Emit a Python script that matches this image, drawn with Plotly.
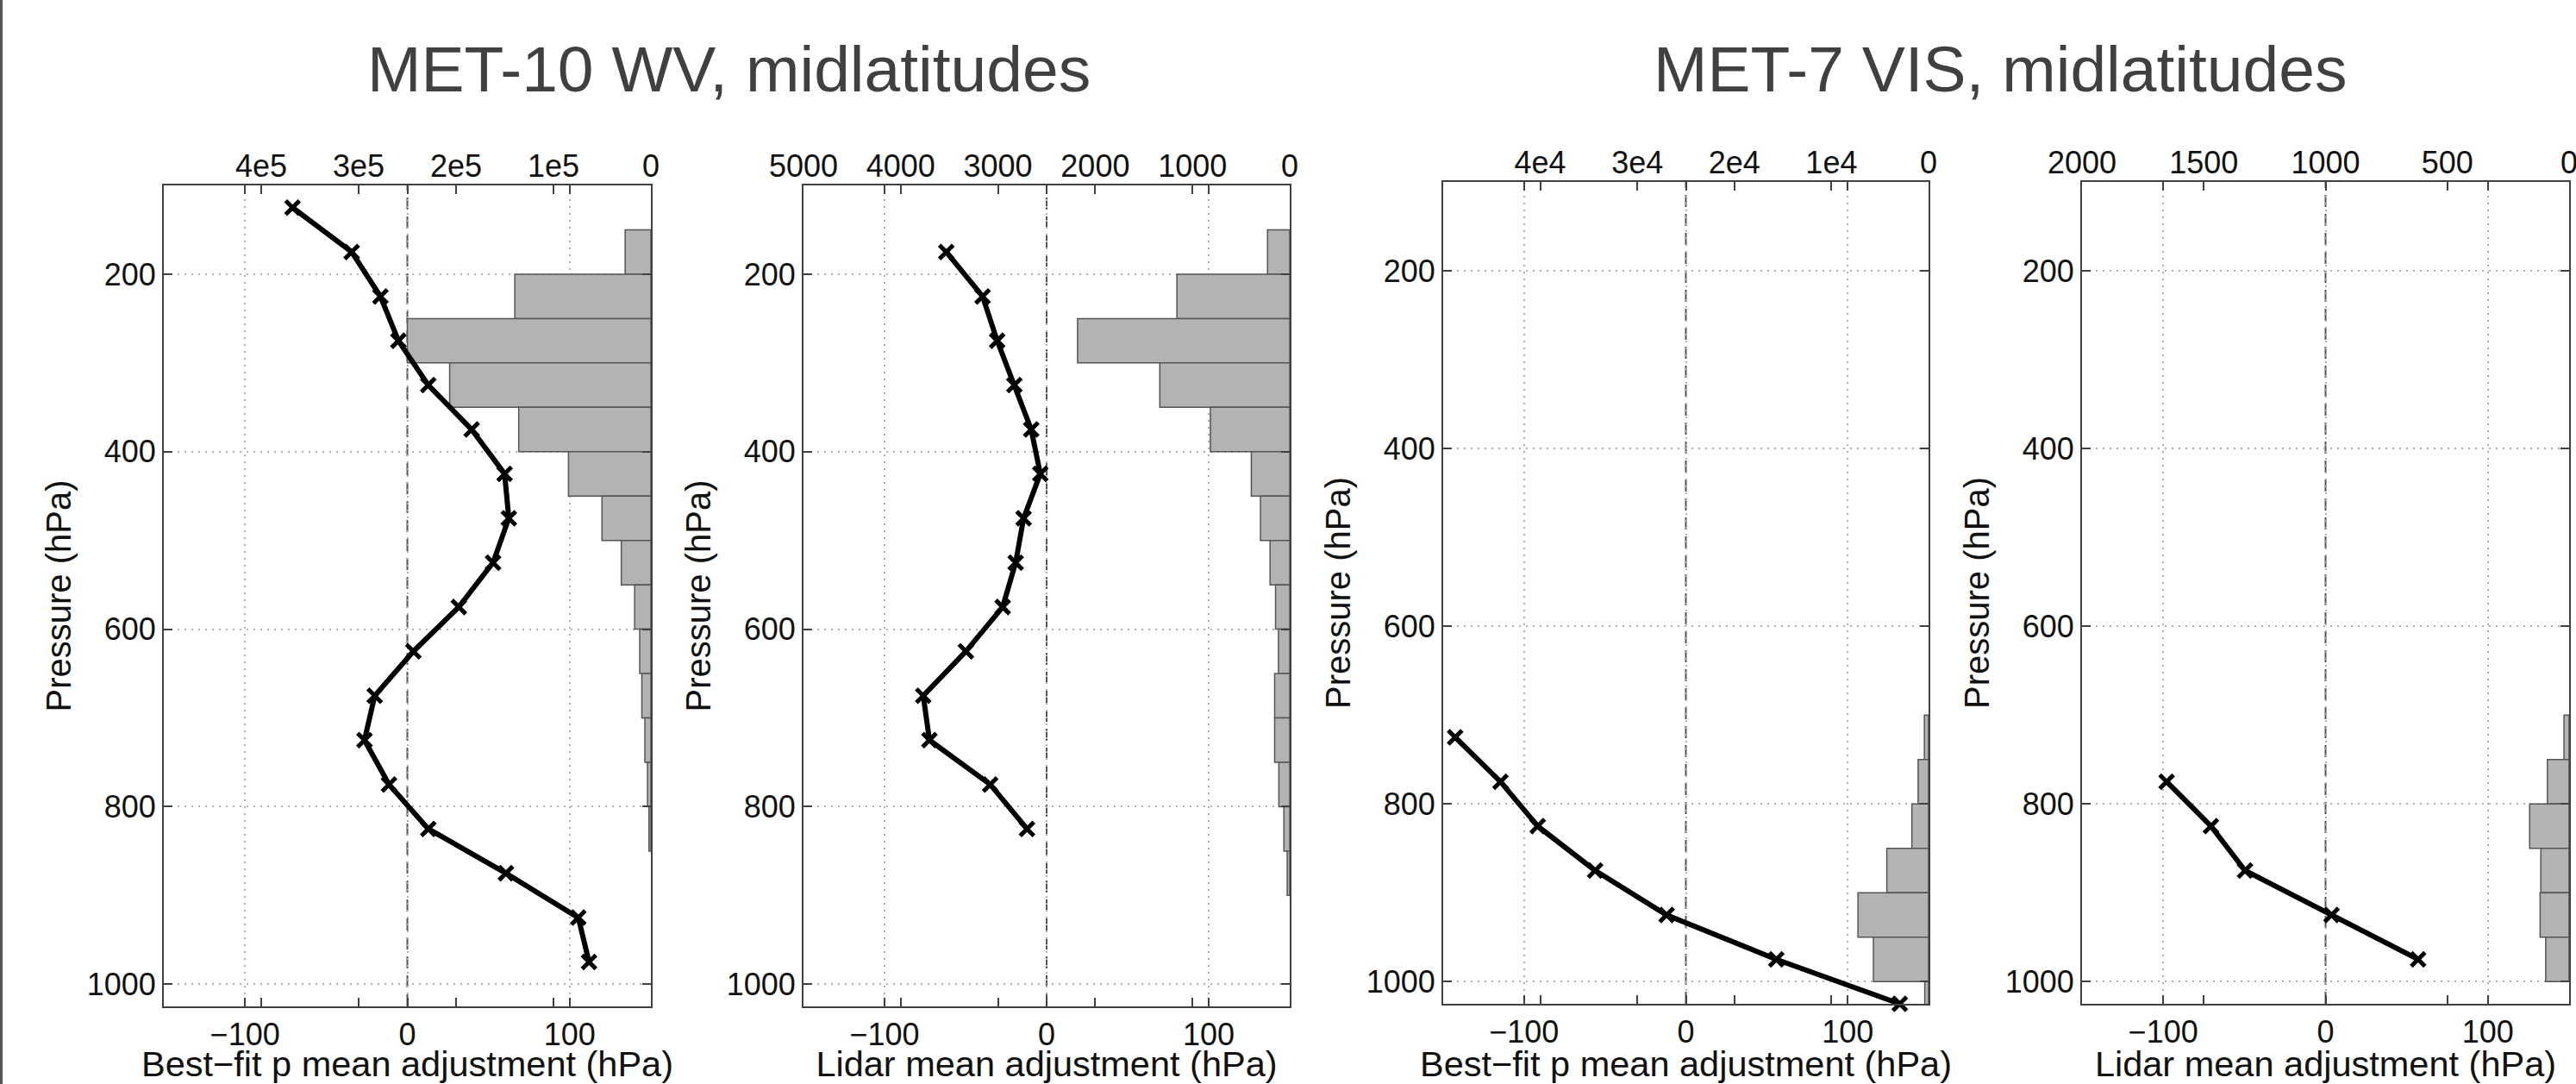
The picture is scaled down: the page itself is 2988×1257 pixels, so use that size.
import plotly.graph_objects as go

# ---------------- data ----------------
# MET-10 WV, best-fit panel (line)
p_wv_bf = [125, 175, 225, 275, 325, 375, 425, 475, 525, 575, 625, 675, 725, 775, 825, 875, 925, 975]
adj_wv_bf = [-70.7, -34.3, -16.6, -5.5, 12.9, 39.6, 59.9, 62.5, 52.8, 31.7, 3.7, -20.1, -26.4, -11.3, 12.9, 60.7, 105.3, 111.9]
# MET-10 WV, best-fit histogram
hist_p_wv_bf = [175, 225, 275, 325, 375, 425, 475, 525, 575, 625, 675, 725, 775, 825]
hist_n_wv_bf = [26400, 139700, 250000, 206600, 135700, 84600, 50200, 30400, 16700, 11500, 9300, 6200, 3500, 2000]

# MET-10 WV, lidar panel
p_wv_li = [175, 225, 275, 325, 375, 425, 475, 525, 575, 625, 675, 725, 775, 825]
adj_wv_li = [-61.9, -39.5, -30.5, -19.9, -9.5, -3.9, -14.2, -19.1, -27.1, -49.8, -76.1, -72.3, -34.8, -12.1]
hist_p_wv_li = [175, 225, 275, 325, 375, 425, 475, 525, 575, 625, 675, 725, 775, 825, 875]
hist_n_wv_li = [228, 1160, 2182, 1336, 816, 395, 301, 202, 146, 116, 155, 155, 112, 60, 26]

# MET-7 VIS, best-fit panel
p_vis_bf = [725, 775, 825, 875, 925, 975, 1025]
adj_vis_bf = [-142.6, -114.6, -91.6, -56.1, -11.9, 55.9, 132.2]
hist_p_vis_bf = [725, 775, 825, 875, 925, 975, 1025]
hist_n_vis_bf = [430, 1075, 1720, 4300, 7270, 5680, 390]

# MET-7 VIS, lidar panel
p_vis_li = [775, 825, 875, 925, 975]
adj_vis_li = [-97.9, -70.6, -49.6, 3.7, 57.0]
hist_p_vis_li = [725, 775, 825, 875, 925, 975]
hist_n_vis_li = [21, 89, 162, 116, 119, 96]

# axis tick labels
p_ticks = [200, 400, 600, 800, 1000]
adj_ticks = [-100, 0, 100]
count_ticks_wv_bf = [400000, 300000, 200000, 100000, 0]
count_text_wv_bf = ["4e5", "3e5", "2e5", "1e5", "0"]
count_ticks_wv_li = [5000, 4000, 3000, 2000, 1000, 0]
count_text_wv_li = ["5000", "4000", "3000", "2000", "1000", "0"]
count_ticks_vis_bf = [40000, 30000, 20000, 10000, 0]
count_text_vis_bf = ["4e4", "3e4", "2e4", "1e4", "0"]
count_ticks_vis_li = [2000, 1500, 1000, 500, 0]
count_text_vis_li = ["2000", "1500", "1000", "500", "0"]
count_max = [500000, 5000, 50000, 2000]

titles = ["MET-10 WV, midlatitudes", "MET-7 VIS, midlatitudes"]
xlabels = ["Best\u2212fit p mean adjustment (hPa)", "Lidar mean adjustment (hPa)",
           "Best\u2212fit p mean adjustment (hPa)", "Lidar mean adjustment (hPa)"]
ylabel = "Pressure (hPa)"

# ---------------- layout geometry (pixels) ----------------
W, H = 2988, 1257
panels_px = [  # x0, x1, ytop, ybottom
    (190, 755, 215, 1167),
    (932, 1496, 215, 1167),
    (1674, 2237, 211, 1164),
    (2415, 2980, 211, 1164),
]

FONT = "Liberation Sans, Arial, Helvetica, sans-serif"
FRAME = "#404040"
GRID = "#b0b0b0"
TXT = "#111111"

lines = [(adj_wv_bf, p_wv_bf), (adj_wv_li, p_wv_li), (adj_vis_bf, p_vis_bf), (adj_vis_li, p_vis_li)]
hists = [(hist_n_wv_bf, hist_p_wv_bf), (hist_n_wv_li, hist_p_wv_li),
         (hist_n_vis_bf, hist_p_vis_bf), (hist_n_vis_li, hist_p_vis_li)]
cticks = [(count_ticks_wv_bf, count_text_wv_bf), (count_ticks_wv_li, count_text_wv_li),
          (count_ticks_vis_bf, count_text_vis_bf), (count_ticks_vis_li, count_text_vis_li)]

fig = go.Figure()
layout = dict(
    template="none",
    width=W, height=H, margin=dict(l=0, r=0, t=0, b=0, autoexpand=False),
    paper_bgcolor="white", plot_bgcolor="white", showlegend=False,
    font=dict(family=FONT, color=TXT, size=36),
)
shapes = []
for i in range(4):
    x0, x1, yt, yb = panels_px[i]
    dx = [x0 / W, x1 / W]
    dy = [1 - yb / H, 1 - yt / H]
    xb = 2 * i + 1   # base (count, top) axis
    xo = 2 * i + 2   # overlay (adjustment, bottom) axis
    yi = i + 1
    xbn = "x" if xb == 1 else f"x{xb}"
    yn = "y" if yi == 1 else f"y{yi}"
    xon = f"x{xo}"

    n, pc = hists[i]
    fig.add_trace(go.Bar(x=n, y=pc, orientation="h", width=50, xaxis=xbn, yaxis=yn,
                         marker=dict(color="#b3b3b3", line=dict(color="#555555", width=1.5))))
    a, p = lines[i]
    fig.add_trace(go.Scatter(x=a, y=p, mode="lines+markers", xaxis=xon, yaxis=yn,
                             line=dict(color="black", width=6),
                             marker=dict(symbol="x-thin-open", size=16,
                                         line=dict(color="black", width=5)),
                             cliponaxis=False))

    tv, tt = cticks[i]
    layout["xaxis" if xb == 1 else f"xaxis{xb}"] = dict(
        domain=dx, anchor=yn, side="top", range=[count_max[i], 0], automargin=False,
        tickvals=tv, ticktext=tt, ticks="inside", ticklen=10, tickwidth=2, tickcolor=FRAME,
        mirror="ticks", showline=True, linecolor=FRAME, linewidth=2,
        showgrid=False, zeroline=False, tickfont=dict(size=36, color=TXT),
        ticklabelstandoff=-6, ticklabeloverflow="allow",
    )
    layout[f"xaxis{xo}"] = dict(
        domain=dx, anchor=yn, overlaying=xbn, side="bottom", range=[-150, 150], automargin=False,
        tickvals=adj_ticks, ticks="inside", ticklen=10, tickwidth=2, tickcolor=FRAME,
        mirror="ticks", showline=True, linecolor=FRAME, linewidth=2,
        showgrid=True, gridcolor=GRID, gridwidth=2, griddash="2px,6px", zeroline=False,
        tickfont=dict(size=36, color=TXT), ticklabelstandoff=0, ticklabeloverflow="allow",
        title=dict(text=xlabels[i], font=dict(size=41.5, color=TXT), standoff=2),
    )
    layout["yaxis" if yi == 1 else f"yaxis{yi}"] = dict(
        domain=dy, anchor=xbn, range=[1025, 100], automargin=False,
        tickvals=p_ticks, ticks="inside", ticklen=10, tickwidth=2, tickcolor=FRAME,
        mirror="ticks", showline=True, linecolor=FRAME, linewidth=2,
        showgrid=True, gridcolor=GRID, gridwidth=2, griddash="2px,6px", zeroline=False,
        tickfont=dict(size=36, color=TXT), ticklabeloverflow="allow",
        title=dict(text=ylabel, font=dict(size=40, color=TXT), standoff=6),
    )
    shapes.append(dict(type="line", xref=xon, yref=f"{yn} domain", x0=0, x1=0, y0=0, y1=1,
                       line=dict(color="#555555", width=2, dash="14px,8px"), layer="below"))

# left border of the image
shapes.append(dict(type="line", xref="paper", yref="paper", x0=1.5 / W, x1=1.5 / W, y0=0, y1=1,
                   line=dict(color="#555555", width=3)))
layout["shapes"] = shapes

title_x = [845, 2320]
layout["annotations"] = [
    dict(text=titles[k], xref="paper", yref="paper", x=title_x[k] / W, y=1 - 80 / H,
         xanchor="center", yanchor="middle", showarrow=False,
         font=dict(family=FONT, size=75, color="#404040"))
    for k in range(2)
]
fig.update_layout(**layout)
fig.write_html("out.html", config={"displayModeBar": False},
               post_script="document.body.style.margin='0';document.body.style.overflow='hidden';")
